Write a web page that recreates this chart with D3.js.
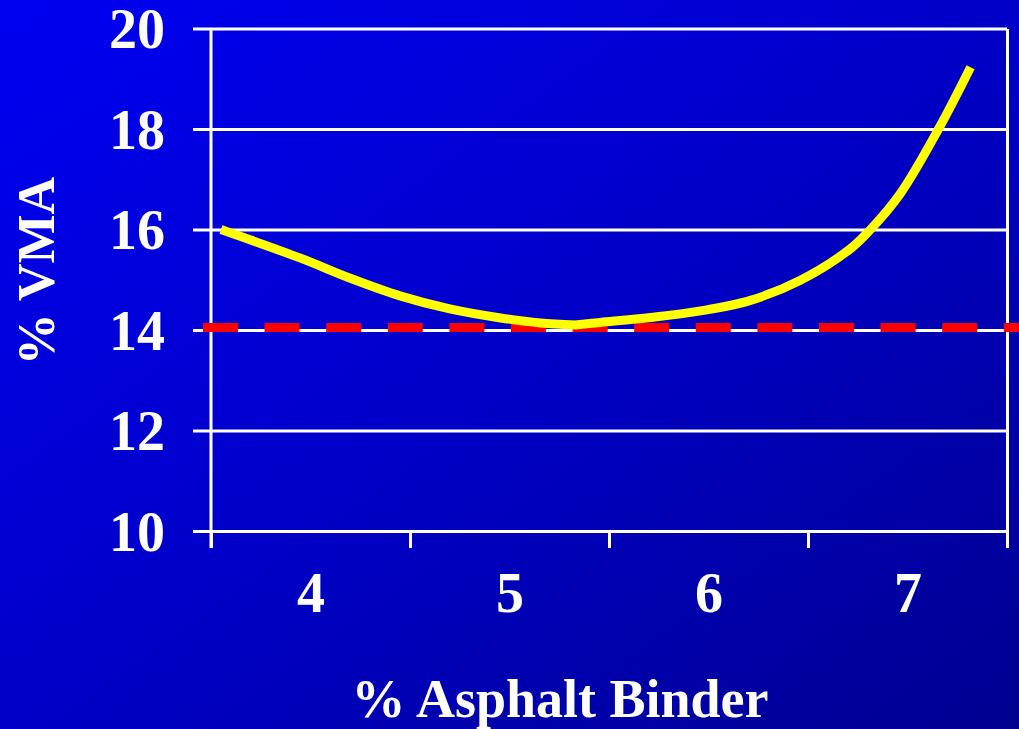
<!DOCTYPE html>
<html>
<head>
<meta charset="utf-8">
<script src="https://cdn.jsdelivr.net/npm/d3@7"></script>
<style>
  html, body { margin: 0; padding: 0; background: #0000c8; }
  svg { display: block; }
</style>
</head>
<body>
<svg id="chart" width="1019" height="729"></svg>
<script>
// ---- data ----
const xCategories = [4, 5, 6, 7];
const xBoundaries = [3.5, 4.5, 5.5, 6.5, 7.5];
const yTicks = [10, 12, 14, 16, 18, 20];
// VMA curve, descending branch (x = % binder, y = % VMA)
const vmaLeftX = [3.55, 3.95, 4.20, 4.45, 4.70, 4.955, 5.156, 5.33];
const vmaLeftY = [16.0, 15.43, 15.03, 14.68, 14.42, 14.24, 14.14, 14.10];
// VMA curve, ascending branch
const vmaRightX = [5.33, 5.457, 5.709, 5.96, 6.211, 6.462, 6.714, 6.814, 6.965, 7.156, 7.317];
const vmaRightY = [14.10, 14.15, 14.25, 14.38, 14.59, 14.99, 15.62, 16.0, 16.72, 18.0, 19.23];
const minVMA = 14.05;
const xTitle = "% Asphalt Binder";
const yTitle = "% VMA";

const svg = d3.select("#chart");
const W = 1019, H = 729;

// background gradient
const defs = svg.append("defs");
const grad = defs.append("linearGradient").attr("id", "bg")
  .attr("x1", "0").attr("y1", "0").attr("x2", "1").attr("y2", "1");
grad.append("stop").attr("offset", "0%").attr("stop-color", "#0000f2");
grad.append("stop").attr("offset", "50%").attr("stop-color", "#0000c8");
grad.append("stop").attr("offset", "100%").attr("stop-color", "#000090");
svg.append("rect").attr("width", W).attr("height", H).attr("fill", "url(#bg)");

const x = d3.scaleLinear().domain([3.5, 7.5]).range([211, 1007]);
const y = d3.scaleLinear().domain([10, 20]).range([531, 28.5]);

const font = "'Liberation Serif', 'Times New Roman', serif";

// y axis: gridlines + labels (placed at right edge so ticks span the plot)
const yAxis = d3.axisLeft(y).tickValues(yTicks).tickSizeInner(1007 - 193).tickSizeOuter(0).tickPadding(28)
  .tickFormat(d3.format("d"));
const gy = svg.append("g").attr("transform", "translate(1007,0)").call(yAxis);
gy.selectAll("line").attr("stroke", "#ffffff").attr("stroke-width", 3);
gy.select(".domain").attr("stroke", "#ffffff").attr("stroke-width", 3);
gy.selectAll("text").attr("fill", "#ffffff").attr("font-family", font)
  .attr("font-weight", "bold").attr("font-size", 56).attr("dy", "0.34em");

// x axis: boundary ticks
const xAxisTicks = d3.axisBottom(x).tickValues(xBoundaries).tickSizeInner(17).tickSizeOuter(0)
  .tickFormat("");
const gx = svg.append("g").attr("transform", "translate(0,531)").call(xAxisTicks);
gx.selectAll("line").attr("stroke", "#ffffff").attr("stroke-width", 3);
gx.select(".domain").attr("stroke", "#ffffff").attr("stroke-width", 3);

// x axis: category labels
const xAxisLabels = d3.axisBottom(x).tickValues(xCategories).tickSize(0).tickPadding(41)
  .tickFormat(d3.format("d"));
const gxl = svg.append("g").attr("transform", "translate(0,531)").call(xAxisLabels);
gxl.select(".domain").remove();
gxl.selectAll("text").attr("fill", "#ffffff").attr("font-family", font)
  .attr("font-weight", "bold").attr("font-size", 56);

// left axis line
svg.append("line")
  .attr("x1", x(3.5)).attr("x2", x(3.5))
  .attr("y1", y(20)).attr("y2", y(10) + 17)
  .attr("stroke", "#ffffff").attr("stroke-width", 3);

// minimum VMA dashed line
svg.append("line")
  .attr("x1", 203).attr("x2", W)
  .attr("y1", y(minVMA)).attr("y2", y(minVMA))
  .attr("stroke", "#ff0000").attr("stroke-width", 9)
  .attr("stroke-dasharray", "35 26.6");

// VMA curve (two smooth branches meeting at the minimum)
const line = d3.line().x(d => x(d[0])).y(d => y(d[1])).curve(d3.curveCatmullRom.alpha(0.5));
const left = d3.zip(vmaLeftX, vmaLeftY);
const right = d3.zip(vmaRightX, vmaRightY);
svg.append("path")
  .attr("d", line(left) + "L" + line(right).slice(1))
  .attr("fill", "none").attr("stroke", "#ffff00").attr("stroke-width", 9)
  .attr("stroke-linejoin", "miter").attr("stroke-linecap", "butt");

// axis titles
svg.append("text")
  .attr("x", 560).attr("y", 717)
  .attr("text-anchor", "middle")
  .attr("fill", "#ffffff").attr("font-family", font)
  .attr("font-weight", "bold").attr("font-size", 54)
  .text(xTitle);

svg.append("text")
  .attr("transform", "translate(54,271) rotate(-90)")
  .attr("text-anchor", "middle")
  .attr("fill", "#ffffff").attr("font-family", font)
  .attr("font-weight", "bold").attr("font-size", 52)
  .text(yTitle);
</script>
</body>
</html>
